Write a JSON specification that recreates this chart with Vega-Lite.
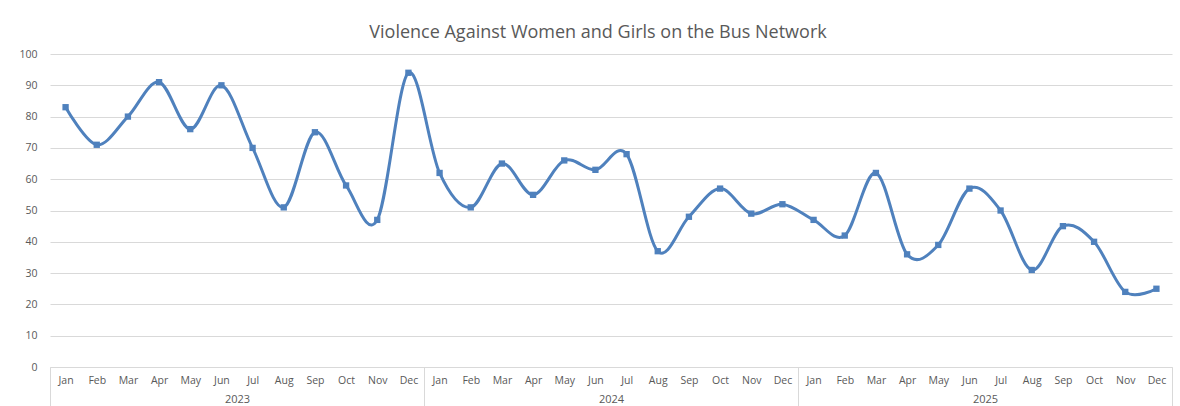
{
  "$schema": "https://vega.github.io/schema/vega-lite/v6.json",
  "autosize": "none",
  "width": 1122,
  "height": 313,
  "padding": {"left": 50, "top": 54, "right": 8, "bottom": 39},
  "background": "white",
  "title": {
    "text": "Violence Against Women and Girls on the Bus Network",
    "font": "Open Sans",
    "fontSize": 18,
    "fontWeight": "normal",
    "color": "#595959",
    "anchor": "middle",
    "dx": -13,
    "offset": 7
  },
  "data": {
    "values": [
      {"key": "2023-01", "year": "2023", "month": "Jan", "value": 83},
      {"key": "2023-02", "year": "2023", "month": "Feb", "value": 71},
      {"key": "2023-03", "year": "2023", "month": "Mar", "value": 80},
      {"key": "2023-04", "year": "2023", "month": "Apr", "value": 91},
      {"key": "2023-05", "year": "2023", "month": "May", "value": 76},
      {"key": "2023-06", "year": "2023", "month": "Jun", "value": 90},
      {"key": "2023-07", "year": "2023", "month": "Jul", "value": 70},
      {"key": "2023-08", "year": "2023", "month": "Aug", "value": 51},
      {"key": "2023-09", "year": "2023", "month": "Sep", "value": 75},
      {"key": "2023-10", "year": "2023", "month": "Oct", "value": 58},
      {"key": "2023-11", "year": "2023", "month": "Nov", "value": 47},
      {"key": "2023-12", "year": "2023", "month": "Dec", "value": 94},
      {"key": "2024-01", "year": "2024", "month": "Jan", "value": 62},
      {"key": "2024-02", "year": "2024", "month": "Feb", "value": 51},
      {"key": "2024-03", "year": "2024", "month": "Mar", "value": 65},
      {"key": "2024-04", "year": "2024", "month": "Apr", "value": 55},
      {"key": "2024-05", "year": "2024", "month": "May", "value": 66},
      {"key": "2024-06", "year": "2024", "month": "Jun", "value": 63},
      {"key": "2024-07", "year": "2024", "month": "Jul", "value": 68},
      {"key": "2024-08", "year": "2024", "month": "Aug", "value": 37},
      {"key": "2024-09", "year": "2024", "month": "Sep", "value": 48},
      {"key": "2024-10", "year": "2024", "month": "Oct", "value": 57},
      {"key": "2024-11", "year": "2024", "month": "Nov", "value": 49},
      {"key": "2024-12", "year": "2024", "month": "Dec", "value": 52},
      {"key": "2025-01", "year": "2025", "month": "Jan", "value": 47},
      {"key": "2025-02", "year": "2025", "month": "Feb", "value": 42},
      {"key": "2025-03", "year": "2025", "month": "Mar", "value": 62},
      {"key": "2025-04", "year": "2025", "month": "Apr", "value": 36},
      {"key": "2025-05", "year": "2025", "month": "May", "value": 39},
      {"key": "2025-06", "year": "2025", "month": "Jun", "value": 57},
      {"key": "2025-07", "year": "2025", "month": "Jul", "value": 50},
      {"key": "2025-08", "year": "2025", "month": "Aug", "value": 31},
      {"key": "2025-09", "year": "2025", "month": "Sep", "value": 45},
      {"key": "2025-10", "year": "2025", "month": "Oct", "value": 40},
      {"key": "2025-11", "year": "2025", "month": "Nov", "value": 24},
      {"key": "2025-12", "year": "2025", "month": "Dec", "value": 25}
    ]
  },
  "config": {
    "view": {"stroke": null},
    "axis": {
      "labelFont": "Open Sans",
      "labelFontSize": 10.5,
      "labelColor": "#595959",
      "domainColor": "#d9d9d9",
      "tickColor": "#d9d9d9",
      "gridColor": "#d9d9d9",
      "title": null
    }
  },
  "layer": [
    {
      "mark": {"type": "rule", "opacity": 0},
      "encoding": {
        "x": {
          "field": "year",
          "type": "nominal",
          "scale": {"type": "band", "paddingInner": 0, "paddingOuter": 0},
          "axis": {
            "orient": "bottom",
            "labelAngle": 0,
            "domain": false,
            "ticks": true,
            "tickBand": "extent",
            "tickSize": 40,
            "labelPadding": -14,
            "labelBaseline": "top",
            "labelFontSize": 11
          }
        }
      }
    },
    {
      "mark": {"type": "line", "interpolate": "cardinal", "color": "#4f81bd", "strokeWidth": 3},
      "encoding": {
        "x": {
          "field": "key",
          "type": "ordinal",
          "scale": {"type": "point", "padding": 0.5},
          "axis": {
            "orient": "bottom",
            "labelAngle": 0,
            "ticks": false,
            "domain": true,
            "labelPadding": 8,
            "labelBaseline": "top",
            "labelOverlap": false,
            "labelExpr": "['Jan','Feb','Mar','Apr','May','Jun','Jul','Aug','Sep','Oct','Nov','Dec'][parseInt(substring(datum.value, 5, 7)) - 1]"
          }
        },
        "y": {
          "field": "value",
          "type": "quantitative",
          "scale": {"domain": [0, 100], "nice": false},
          "axis": {
            "tickCount": 10,
            "labelOverlap": false,
            "domain": false,
            "ticks": false,
            "labelPadding": 13,
            "grid": true
          }
        }
      }
    },
    {
      "mark": {"type": "point", "shape": "square", "filled": true, "opacity": 1, "size": 40, "color": "#4f81bd"},
      "encoding": {
        "x": {"field": "key", "type": "ordinal", "scale": {"type": "point", "padding": 0.5}, "axis": null},
        "y": {"field": "value", "type": "quantitative", "scale": {"domain": [0, 100], "nice": false}, "axis": {"tickCount": 10, "labelOverlap": false, "domain": false, "ticks": false, "labelPadding": 13, "grid": true}}
      }
    }
  ],
  "resolve": {"scale": {"x": "independent"}, "axis": {"x": "independent"}}
}
